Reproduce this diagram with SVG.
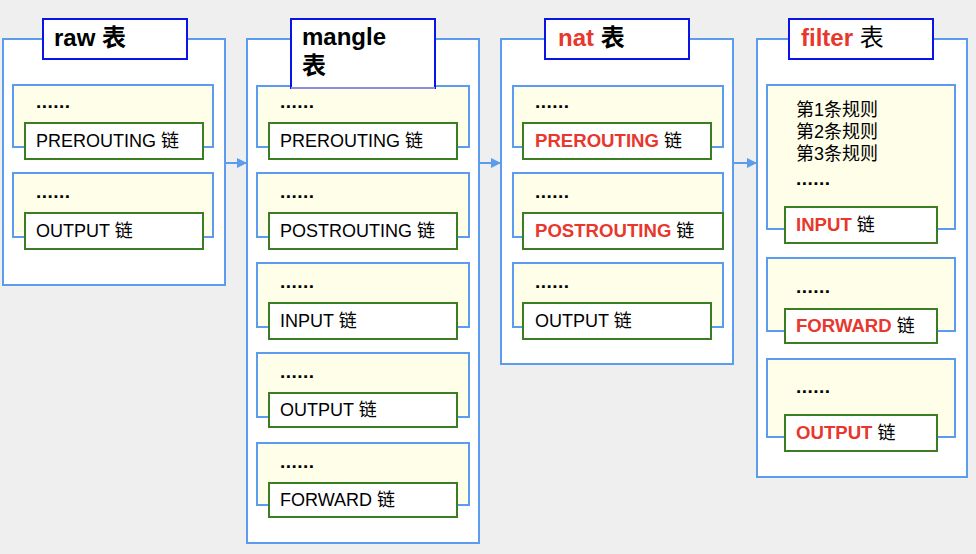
<svg xmlns="http://www.w3.org/2000/svg" width="976" height="554" viewBox="0 0 976 554">
<defs>
<marker id="arr" markerWidth="10" markerHeight="10" refX="9" refY="5" orient="auto" markerUnits="userSpaceOnUse">
<path d="M0,0 L10,5 L0,10 Z" fill="#5b9bf0"/>
</marker>
</defs>
<style>
.outer{fill:#ffffff;stroke:#5b9bf0;stroke-width:2}
.inner{fill:#fefee9;stroke:#5b9bf0;stroke-width:2}
.chain{fill:#ffffff;stroke:#3b7d23;stroke-width:2}
.title{fill:#ffffff;stroke:#0a14e6;stroke-width:2}
.conn{stroke:#5b9bf0;stroke-width:2;fill:none}
text{font-family:"Liberation Sans","Noto Sans CJK SC",sans-serif;fill:#000}
.t{font-size:24px;font-weight:bold}
.c{font-size:18px}
.d{font-size:19px;font-weight:bold}
.r{fill:#e8372c;font-weight:bold;font-size:18.6px}
.n{font-weight:normal}
</style>
<rect x="0" y="0" width="976" height="554" fill="#efefef"/>

<g id="connectors">
<line class="conn" x1="225" y1="163" x2="246" y2="163" marker-end="url(#arr)"/>
<line class="conn" x1="479" y1="163" x2="500" y2="163" marker-end="url(#arr)"/>
<line class="conn" x1="733" y1="163" x2="756" y2="163" marker-end="url(#arr)"/>
</g>

<!-- raw -->
<g id="raw-table">
<rect class="outer" x="3" y="39" width="222" height="246"/>
<g id="raw-prerouting">
<rect class="inner" x="13" y="85" width="200" height="62"/>
<text class="d" x="36" y="108" textLength="34" lengthAdjust="spacing">......</text>
<rect class="chain" x="25" y="123" width="178" height="36"/>
<text class="c" x="36" y="147">PREROUTING 链</text>
</g>
<g id="raw-output">
<rect class="inner" x="13" y="173" width="200" height="64"/>
<text class="d" x="36" y="198" textLength="34" lengthAdjust="spacing">......</text>
<rect class="chain" x="25" y="213" width="178" height="36"/>
<text class="c" x="36" y="237">OUTPUT 链</text>
</g>
<rect class="title" x="43" y="19" width="144" height="40"/>
<text class="t" x="54" y="46">raw 表</text>
</g>

<!-- mangle -->
<g id="mangle-table">
<rect class="outer" x="247" y="39" width="232" height="504"/>
<g id="mangle-prerouting">
<rect class="inner" x="257" y="86" width="212" height="61"/>
<text class="d" x="280" y="108" textLength="34" lengthAdjust="spacing">......</text>
<rect class="chain" x="269" y="123" width="188" height="36"/>
<text class="c" x="280" y="147">PREROUTING 链</text>
</g>
<g id="mangle-postrouting">
<rect class="inner" x="257" y="173" width="212" height="64"/>
<text class="d" x="280" y="198" textLength="34" lengthAdjust="spacing">......</text>
<rect class="chain" x="269" y="213" width="188" height="36"/>
<text class="c" x="280" y="237">POSTROUTING 链</text>
</g>
<g id="mangle-input">
<rect class="inner" x="257" y="263" width="212" height="64"/>
<text class="d" x="280" y="288" textLength="34" lengthAdjust="spacing">......</text>
<rect class="chain" x="269" y="303" width="188" height="36"/>
<text class="c" x="280" y="327">INPUT 链</text>
</g>
<g id="mangle-output">
<rect class="inner" x="257" y="353" width="212" height="64"/>
<text class="d" x="280" y="378" textLength="34" lengthAdjust="spacing">......</text>
<rect class="chain" x="269" y="393" width="188" height="34"/>
<text class="c" x="280" y="416">OUTPUT 链</text>
</g>
<g id="mangle-forward">
<rect class="inner" x="257" y="443" width="212" height="62"/>
<text class="d" x="280" y="468" textLength="34" lengthAdjust="spacing">......</text>
<rect class="chain" x="269" y="483" width="188" height="34"/>
<text class="c" x="280" y="506">FORWARD 链</text>
</g>
<rect class="title" x="291" y="19" width="144" height="69"/>
<line x1="291" y1="88" x2="435" y2="88" stroke="#8c8ce0" stroke-width="2"/>
<text class="t" x="302" y="45">mangle</text>
<text class="t" x="302" y="74">表</text>
</g>

<!-- nat -->
<g id="nat-table">
<rect class="outer" x="501" y="39" width="232" height="325"/>
<g id="nat-prerouting">
<rect class="inner" x="513" y="86" width="210" height="61"/>
<text class="d" x="535" y="108" textLength="34" lengthAdjust="spacing">......</text>
<rect class="chain" x="523" y="123" width="188" height="36"/>
<text class="c" x="535" y="147"><tspan class="r">PREROUTING</tspan> 链</text>
</g>
<g id="nat-postrouting">
<rect class="inner" x="513" y="173" width="210" height="64"/>
<text class="d" x="535" y="198" textLength="34" lengthAdjust="spacing">......</text>
<rect class="chain" x="523" y="213" width="200" height="36"/>
<text class="c" x="535" y="237"><tspan class="r">POSTROUTING</tspan> 链</text>
</g>
<g id="nat-output">
<rect class="inner" x="513" y="263" width="210" height="64"/>
<text class="d" x="535" y="288" textLength="34" lengthAdjust="spacing">......</text>
<rect class="chain" x="523" y="303" width="188" height="36"/>
<text class="c" x="535" y="327">OUTPUT 链</text>
</g>
<rect class="title" x="545" y="19" width="144" height="40"/>
<text class="t" x="558" y="46"><tspan class="r" style="font-size:24px">nat</tspan> 表</text>
</g>

<!-- filter -->
<g id="filter-table">
<rect class="outer" x="757" y="39" width="210" height="438"/>
<g id="filter-input">
<rect class="inner" x="767" y="85" width="188" height="144"/>
<text class="c" x="796" y="116">第1条规则</text>
<text class="c" x="796" y="138">第2条规则</text>
<text class="c" x="796" y="160">第3条规则</text>
<text class="d" x="796" y="185" textLength="34" lengthAdjust="spacing">......</text>
<rect class="chain" x="785" y="207" width="152" height="36"/>
<text class="c" x="796" y="231"><tspan class="r">INPUT</tspan> 链</text>
</g>
<g id="filter-forward">
<rect class="inner" x="767" y="258" width="188" height="73"/>
<text class="d" x="796" y="293" textLength="34" lengthAdjust="spacing">......</text>
<rect class="chain" x="785" y="309" width="152" height="34"/>
<text class="c" x="796" y="332"><tspan class="r">FORWARD</tspan> 链</text>
</g>
<g id="filter-output">
<rect class="inner" x="767" y="359" width="188" height="78"/>
<text class="d" x="796" y="393" textLength="34" lengthAdjust="spacing">......</text>
<rect class="chain" x="785" y="415" width="152" height="36"/>
<text class="c" x="796" y="439"><tspan class="r">OUTPUT</tspan> 链</text>
</g>
<rect class="title" x="789" y="19" width="144" height="40"/>
<text class="t" x="801" y="46"><tspan class="r" style="font-size:24px">filter</tspan> <tspan class="n">表</tspan></text>
</g>
</svg>
